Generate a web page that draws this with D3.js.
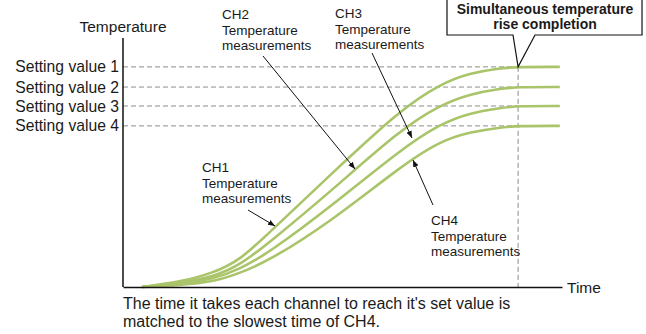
<!DOCTYPE html>
<html>
<head>
<meta charset="utf-8">
<script src="https://cdn.jsdelivr.net/npm/d3@7"></script>
<style>
	body { margin: 0; background: #fff; }
	svg text { font-family: "Liberation Sans", Arial, Helvetica, sans-serif; fill: #1a1a1a; }
</style>
</head>
<body>
<div id="chart-div"></div>
<script>
//Chart values

	//Time points (0-100 along the time axis) where curves were sampled
	var timePoints = [4.3, 13, 20.5, 26.7, 33.5, 47.2, 63.1, 72.2, 79, 85.9, 90, 99.5];

	//Temperature (0-100 along the temperature axis) for each channel
	var ch1Values = [0, 2.0, 5.6, 10.8, 22.1, 45.0, 71.1, 81.5, 85.9, 87.9, 88.4, 88.4];
	var ch2Values = [0, 1.6, 4.0, 8.8, 18.1, 38.2, 63.1, 73.1, 77.5, 79.7, 80.3, 80.3];
	var ch3Values = [0, 1.2, 3.2, 7.2, 14.1, 32.1, 55.0, 65.5, 69.9, 71.9, 72.7, 72.7];
	var ch4Values = [0, 0.8, 2.0, 5.6, 10.8, 26.1, 48.2, 58.6, 62.2, 64.1, 64.7, 64.7];

	//Setting values and their tick labels
	var settingValues = [88.4, 80.3, 72.7, 64.7];
	var settingLabels = ["Setting value 1", "Setting value 2", "Setting value 3", "Setting value 4"];

	//Time at which all channels finish rising
	var completionTime = 90;

	//Annotation labels
	var channelNames = ["CH1", "CH2", "CH3", "CH4"];

//Canvas
	var W = 646, H = 334;
	var margin = {top: 38, right: 84, bottom: 47, left: 123};
	var w = W - margin.left - margin.right,
		h = H - margin.top - margin.bottom;

	var svg = d3.select("#chart-div").append("svg")
		.attr("width", W)
		.attr("height", H);

	var g = svg.append("g")
		.attr("transform", "translate(" + margin.left + "," + margin.top + ")");

	//Scales
	var x = d3.scaleLinear().domain([0, 100]).range([0, w]);
	var y = d3.scaleLinear().domain([0, 100]).range([h, 0]);

	//Dashed setting lines
	g.selectAll(".set-line")
		.data(settingValues)
		.enter().append("line")
		.attr("class", "set-line")
		.attr("x1", 0)
		.attr("x2", x(completionTime))
		.attr("y1", function(d) { return y(d); })
		.attr("y2", function(d) { return y(d); })
		.attr("stroke", "#8c8c8c")
		.attr("stroke-width", 1)
		.attr("stroke-dasharray", "5,3");

	//Vertical dashed completion line
	g.append("line")
		.attr("x1", x(completionTime))
		.attr("x2", x(completionTime))
		.attr("y1", y(settingValues[0]))
		.attr("y2", h)
		.attr("stroke", "#8c8c8c")
		.attr("stroke-width", 1)
		.attr("stroke-dasharray", "5,3");

	//Channel curves
	var series = [ch1Values, ch2Values, ch3Values, ch4Values];
	var line = d3.line()
		.x(function(d, i) { return x(timePoints[i]); })
		.y(function(d) { return y(d); })
		.curve(d3.curveBasis);

	g.selectAll(".ch-line")
		.data(series)
		.enter().append("path")
		.attr("class", "ch-line")
		.attr("d", line)
		.attr("fill", "none")
		.attr("stroke", "#aac46a")
		.attr("stroke-width", 2.6);

	//Axes
	var yAxis = d3.axisLeft(y)
		.tickValues(settingValues)
		.tickFormat(function(d, i) { return settingLabels[i]; })
		.tickSize(0)
		.tickPadding(4);

	var yG = g.append("g").call(yAxis);
	yG.select(".domain").attr("stroke", "#111").attr("stroke-width", 1.5).attr("d", "M0," + h + "V0");
	yG.selectAll("text")
		.attr("font-size", 15.7)
		.attr("font-family", "Liberation Sans, Arial, sans-serif")
		.attr("fill", "#1a1a1a");

	var xAxis = d3.axisBottom(x).ticks(0).tickSizeOuter(0);
	var xG = g.append("g").attr("transform", "translate(0," + h + ")").call(xAxis);
	xG.select(".domain").attr("stroke", "#111").attr("stroke-width", 1.5);

	//Axis titles
	g.append("text")
		.attr("x", 0)
		.attr("y", -6)
		.attr("text-anchor", "middle")
		.attr("font-size", 15.5)
		.text("Temperature");

	g.append("text")
		.attr("x", w + 5)
		.attr("y", h + 6)
		.attr("font-size", 15.5)
		.text("Time");

	//Footnote
	var note = svg.append("text")
		.attr("x", margin.left)
		.attr("y", 309)
		.attr("font-size", 16);
	note.append("tspan").attr("x", margin.left).text("The time it takes each channel to reach it's set value is");
	note.append("tspan").attr("x", margin.left).attr("dy", 18).text("matched to the slowest time of CH4.");

	//Arrow marker
	svg.append("defs").append("marker")
		.attr("id", "arrow")
		.attr("viewBox", "0 0 10 10")
		.attr("refX", 10)
		.attr("refY", 5)
		.attr("markerWidth", 7)
		.attr("markerHeight", 7)
		.attr("markerUnits", "userSpaceOnUse")
		.attr("orient", "auto")
		.append("path")
		.attr("d", "M0,1L10,5L0,9Z")
		.attr("fill", "#111");

	//Channel annotations: label position and arrow (label anchor -> point on curve)
	var labelPos = [[202, 172], [222, 19], [335, 18], [431, 225]];
	var arrowFrom = [[248, 210], [263, 56], [372, 53], [433, 205]];
	var arrowTo = [[275, 226], [355, 169], [412, 138], [413, 160]];

	channelNames.forEach(function(name, i) {
		var t = svg.append("text")
			.attr("x", labelPos[i][0])
			.attr("y", labelPos[i][1])
			.attr("font-size", 13.5);
		t.append("tspan").attr("x", labelPos[i][0]).text(name);
		t.append("tspan").attr("x", labelPos[i][0]).attr("dy", 15.5).text("Temperature");
		t.append("tspan").attr("x", labelPos[i][0]).attr("dy", 15.5).text("measurements");

		svg.append("line")
			.attr("x1", arrowFrom[i][0])
			.attr("y1", arrowFrom[i][1])
			.attr("x2", arrowTo[i][0])
			.attr("y2", arrowTo[i][1])
			.attr("stroke", "#111")
			.attr("stroke-width", 1)
			.attr("marker-end", "url(#arrow)");
	});

	//Callout box
	var cx = margin.left + x(completionTime), cy = margin.top + y(settingValues[0]);
	svg.append("path")
		.attr("d", "M447,-1L642,-1L642,35L535,35L" + cx + "," + cy + "L513,35L447,35Z")
		.attr("fill", "#fff")
		.attr("stroke", "#111")
		.attr("stroke-width", 1.2);

	var callout = svg.append("text")
		.attr("text-anchor", "middle")
		.attr("font-size", 14)
		.attr("font-weight", "bold")
		.attr("y", 13.5);
	callout.append("tspan").attr("x", 545).text("Simultaneous temperature");
	callout.append("tspan").attr("x", 545).attr("dy", 15.5).text("rise completion");
</script>
</body>
</html>
